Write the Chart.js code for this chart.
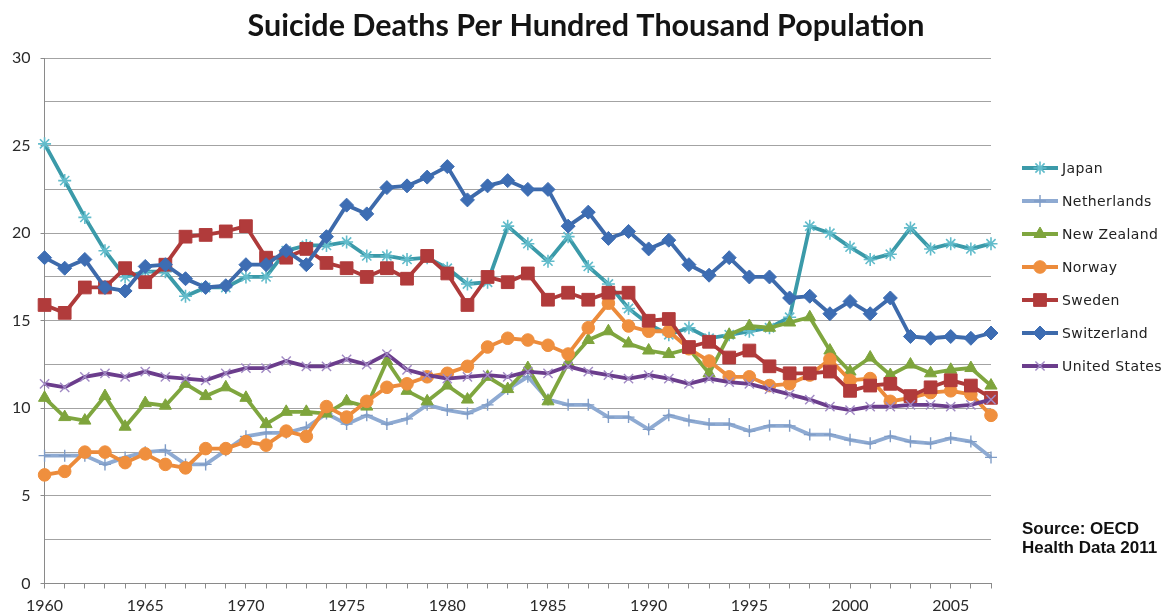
<!DOCTYPE html>
<html>
<head>
<meta charset="utf-8">
<title>Suicide Deaths Per Hundred Thousand Population</title>
<script src="https://cdn.jsdelivr.net/npm/chart.js@4/dist/chart.umd.min.js"></script>
<style>
  html, body { margin: 0; padding: 0; background: #ffffff; }
  #wrap { width: 1170px; height: 616px; position: relative; }
</style>
</head>
<body>
<div id="wrap"><canvas id="chart" width="1170" height="616"></canvas></div>
<script>
// Years on the horizontal axis
const years = [];
for (let y = 1960; y <= 2007; y++) years.push(y);

// Suicide deaths per 100,000 population, 1960-2007
const japan = [25.1, 23.0, 20.9, 19.0, 17.5, 17.8, 17.8, 16.4, 16.9, 16.9,
  17.5, 17.5, 19.0, 19.3, 19.3, 19.5, 18.7, 18.7, 18.5, 18.6,
  18.0, 17.1, 17.2, 20.4, 19.4, 18.4, 19.8, 18.1, 17.1, 15.7,
  14.8, 14.2, 14.6, 14.0, 14.2, 14.4, 14.6, 15.2, 20.4, 20.0,
  19.2, 18.5, 18.8, 20.3, 19.1, 19.4, 19.1, 19.4];
const netherlands = [7.3, 7.3, 7.3, 6.8, 7.2, 7.5, 7.6, 6.8, 6.8, 7.6,
  8.4, 8.6, 8.6, 8.9, 9.7, 9.1, 9.6, 9.1, 9.4, 10.2,
  9.9, 9.7, 10.2, 11.1, 11.8, 10.5, 10.2, 10.2, 9.5, 9.5,
  8.8, 9.6, 9.3, 9.1, 9.1, 8.7, 9.0, 9.0, 8.5, 8.5,
  8.2, 8.0, 8.4, 8.1, 8.0, 8.3, 8.1, 7.2];
const newZealand = [10.6, 9.5, 9.3, 10.7, 8.95, 10.3, 10.15, 11.4, 10.7, 11.2,
  10.6, 9.1, 9.8, 9.8, 9.7, 10.4, 10.1, 12.7, 11.0, 10.4,
  11.3, 10.5, 11.8, 11.1, 12.3, 10.4, 12.6, 13.9, 14.4, 13.7,
  13.3, 13.1, 13.4, 12.0, 14.2, 14.7, 14.6, 14.9, 15.2, 13.3,
  12.1, 12.9, 11.9, 12.5, 12.0, 12.2, 12.3, 11.3];
const norway = [6.2, 6.4, 7.5, 7.5, 6.9, 7.4, 6.8, 6.6, 7.7, 7.7,
  8.1, 7.9, 8.7, 8.4, 10.1, 9.5, 10.4, 11.2, 11.4, 11.8,
  12.0, 12.4, 13.5, 14.0, 13.9, 13.6, 13.1, 14.6, 16.0, 14.7,
  14.4, 14.4, 13.4, 12.7, 11.8, 11.8, 11.3, 11.4, 11.9, 12.8,
  11.6, 11.7, 10.4, 10.6, 10.9, 11.0, 10.8, 9.6];
const sweden = [15.9, 15.45, 16.9, 16.9, 18.0, 17.2, 18.2, 19.8, 19.9, 20.1,
  20.4, 18.6, 18.6, 19.1, 18.3, 18.0, 17.5, 18.0, 17.4, 18.7,
  17.7, 15.9, 17.5, 17.2, 17.7, 16.2, 16.6, 16.2, 16.6, 16.6,
  15.0, 15.1, 13.5, 13.8, 12.9, 13.3, 12.4, 12.0, 12.0, 12.1,
  11.0, 11.3, 11.4, 10.7, 11.2, 11.6, 11.3, 10.6];
const switzerland = [18.6, 18.0, 18.5, 16.9, 16.7, 18.1, 18.2, 17.4, 16.9, 17.0,
  18.2, 18.2, 19.0, 18.2, 19.8, 21.6, 21.1, 22.6, 22.7, 23.2,
  23.8, 21.9, 22.7, 23.0, 22.5, 22.5, 20.4, 21.2, 19.7, 20.1,
  19.1, 19.6, 18.2, 17.6, 18.6, 17.5, 17.5, 16.3, 16.4, 15.4,
  16.1, 15.4, 16.3, 14.1, 14.0, 14.1, 14.0, 14.3];
const unitedStates = [11.4, 11.2, 11.8, 12.0, 11.8, 12.1, 11.8, 11.7, 11.6, 12.0,
  12.3, 12.3, 12.7, 12.4, 12.4, 12.8, 12.5, 13.1, 12.2, 11.9,
  11.7, 11.8, 11.9, 11.8, 12.1, 12.0, 12.4, 12.1, 11.9, 11.7,
  11.9, 11.7, 11.4, 11.7, 11.5, 11.4, 11.1, 10.8, 10.5, 10.1,
  9.9, 10.1, 10.1, 10.2, 10.2, 10.1, 10.2, 10.5];

const seriesNames = ['Japan', 'Netherlands', 'New Zealand', 'Norway', 'Sweden', 'Switzerland', 'United States'];
const seriesValues = [japan, netherlands, newZealand, norway, sweden, switzerland, unitedStates];
const titleText = 'Suicide Deaths Per Hundred Thousand Population';
const sourceLines = ['Source: OECD', 'Health Data 2011'];

// Line and marker styling per series
const styles = [
  { line: '#3b9aa9', fill: '#62bccb', stroke: '#62bccb', shape: 'star',     r: 6.5, bw: 1.6 },
  { line: '#8eaad2', fill: '#8eaad2', stroke: '#7f9cc6', shape: 'cross',    r: 6,   bw: 1.4 },
  { line: '#7fa63f', fill: '#7ea43c', stroke: '#7ea43c', shape: 'triangle', r: 7,   bw: 1 },
  { line: '#ec8b3b', fill: '#ef8f3e', stroke: '#ef8f3e', shape: 'circle',   r: 6.3, bw: 1 },
  { line: '#ae3a3a', fill: '#b13b3b', stroke: '#b13b3b', shape: 'rect',     r: 9,   bw: 1 },
  { line: '#3d6aab', fill: '#3d6db3', stroke: '#3d6db3', shape: 'rectRot',  r: 7,   bw: 1 },
  { line: '#6b3d8c', fill: '#a18ac4', stroke: '#a18ac4', shape: 'crossRot', r: 6.5, bw: 1.4 }
];

const datasets = seriesNames.map((name, i) => ({
  label: name,
  data: seriesValues[i],
  borderColor: styles[i].line,
  backgroundColor: styles[i].line,
  borderWidth: 3.8,
  pointStyle: styles[i].shape,
  pointRadius: styles[i].r,
  pointBackgroundColor: styles[i].fill,
  pointBorderColor: styles[i].stroke,
  pointBorderWidth: styles[i].bw,
  tension: 0,
  fill: false,
  order: seriesNames.length - i
}));

// Title, legend and source note
const decorations = {
  id: 'decorations',
  afterDraw(chart) {
    const ctx = chart.ctx;
    const area = chart.chartArea;
    ctx.save();
    ctx.fillStyle = '#141414';
    ctx.font = 'bold 30.5px Lato';
    ctx.textAlign = 'center';
    ctx.textBaseline = 'middle';
    ctx.fillText(titleText, 586, 26);

    const lx = area.right + 31;
    const top = 168, gap = 33;
    chart.data.datasets.forEach((ds, i) => {
      const y = top + i * gap;
      ctx.strokeStyle = ds.borderColor;
      ctx.lineWidth = ds.borderWidth;
      ctx.beginPath();
      ctx.moveTo(lx, y);
      ctx.lineTo(lx + 36, y);
      ctx.stroke();
      ctx.fillStyle = ds.pointBackgroundColor;
      ctx.strokeStyle = ds.pointBorderColor;
      ctx.lineWidth = ds.pointBorderWidth;
      Chart.helpers.drawPoint(ctx, {
        pointStyle: ds.pointStyle, radius: ds.pointRadius,
        rotation: 0, borderWidth: ds.pointBorderWidth
      }, lx + 18, y);
      ctx.fillStyle = '#222222';
      ctx.font = '14px "DejaVu Sans"';
      ctx.letterSpacing = '0.4px';
      ctx.textAlign = 'left';
      ctx.textBaseline = 'middle';
      ctx.fillText(ds.label, lx + 40, y + 1);
      ctx.letterSpacing = '0px';
    });

    ctx.fillStyle = '#111111';
    ctx.font = 'bold 17px "Liberation Sans"';
    ctx.textAlign = 'left';
    ctx.textBaseline = 'middle';
    sourceLines.forEach((t, i) => ctx.fillText(t, lx, 529 + i * 19));
    ctx.restore();
  }
};

new Chart(document.getElementById('chart'), {
  type: 'line',
  data: { labels: years, datasets },
  options: {
    responsive: false,
    animation: false,
    layout: { padding: { left: 2, right: 179, top: 58, bottom: -7.7 } },
    plugins: {
      legend: { display: false },
      title: { display: false },
      tooltip: { enabled: false }
    },
    scales: {
      x: {
        type: 'category',
        offset: false,
        grid: {
          drawOnChartArea: false,
          drawTicks: true,
          tickLength: 5,
          color: '#8a8a8a'
        },
        border: { color: '#8a8a8a' },
        ticks: {
          autoSkip: false,
          maxRotation: 0,
          padding: 8,
          color: '#2a2a2a',
          font: { family: 'Lato', size: 16 },
          callback: function (val, idx) {
            const yr = years[idx];
            return yr % 5 === 0 ? String(yr) : '';
          }
        }
      },
      y: {
        min: 0,
        max: 30,
        grid: {
          color: '#a3a3a3',
          lineWidth: 1,
          tickLength: 4,
          tickColor: (c) => (c.tick && c.tick.value % 5 === 0) ? '#8a8a8a' : 'rgba(0,0,0,0)'
        },
        border: { color: '#8a8a8a' },
        ticks: {
          stepSize: 2.5,
          padding: 10,
          color: '#2a2a2a',
          font: { family: 'Lato', size: 16 },
          callback: (v) => (v % 5 === 0 ? String(v) : '')
        }
      }
    }
  },
  plugins: [decorations]
});
</script>
</body>
</html>
